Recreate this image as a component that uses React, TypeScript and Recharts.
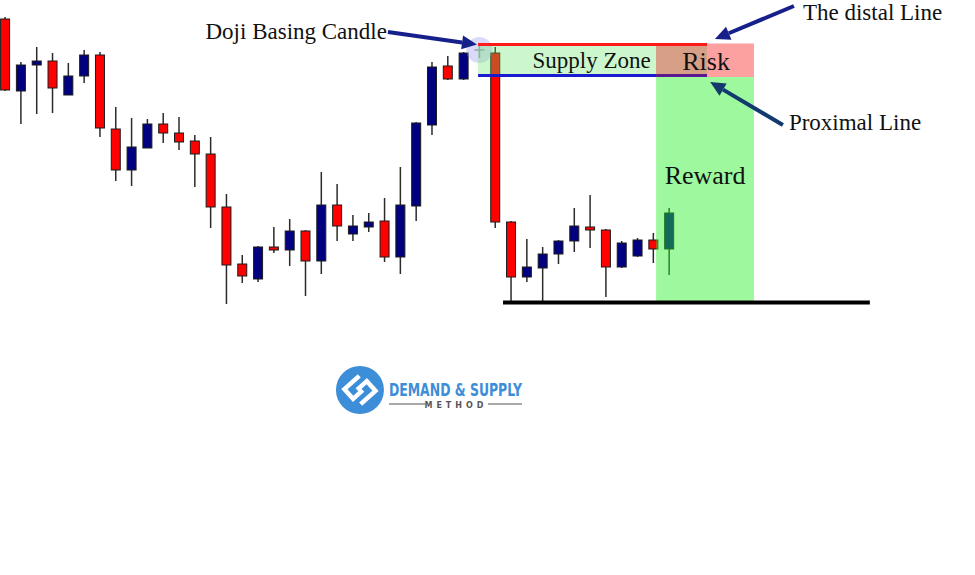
import { ComposedChart, Bar, XAxis, YAxis, ReferenceArea, ReferenceLine, ReferenceDot } from 'recharts'

// OHLC, one entry per candle (index 30 is the doji base)
const opens = [1.2981, 1.2909, 1.2935, 1.2939, 1.2905, 1.2924, 1.2945, 1.2871, 1.2830, 1.2852, 1.2876, 1.2867, 1.2859, 1.2846, 1.2793, 1.2736, 1.2721, 1.2753, 1.2750, 1.2769, 1.2739, 1.2795, 1.2766, 1.2773, 1.2779, 1.2743, 1.2794, 1.2875, 1.2934, 1.2921, 1.2950, 1.2947, 1.2778, 1.2723, 1.2732, 1.2746, 1.2759, 1.2773, 1.2770, 1.2733, 1.2744, 1.2760, 1.2751]
const closes = [1.2910, 1.2935, 1.2939, 1.2912, 1.2924, 1.2945, 1.2872, 1.2830, 1.2853, 1.2876, 1.2867, 1.2858, 1.2846, 1.2793, 1.2735, 1.2724, 1.2753, 1.2750, 1.2769, 1.2739, 1.2795, 1.2774, 1.2774, 1.2778, 1.2743, 1.2795, 1.2877, 1.2933, 1.2921, 1.2947, 1.2950, 1.2778, 1.2723, 1.2733, 1.2746, 1.2759, 1.2774, 1.2770, 1.2733, 1.2757, 1.2760, 1.2751, 1.2787]
const highs = [1.2983, 1.2938, 1.2953, 1.2947, 1.2937, 1.2950, 1.2948, 1.2893, 1.2882, 1.2881, 1.2887, 1.2883, 1.2865, 1.2863, 1.2806, 1.2745, 1.2754, 1.2773, 1.2781, 1.2770, 1.2828, 1.2816, 1.2785, 1.2787, 1.2802, 1.2833, 1.2878, 1.2938, 1.2944, 1.2948, 1.2955, 1.2953, 1.2779, 1.2761, 1.2753, 1.2760, 1.2792, 1.2805, 1.2771, 1.2759, 1.2762, 1.2767, 1.2792]
const lows = [1.2909, 1.2876, 1.2886, 1.2887, 1.2905, 1.2917, 1.2863, 1.2819, 1.2814, 1.2852, 1.2857, 1.2850, 1.2813, 1.2772, 1.2696, 1.2717, 1.2718, 1.2747, 1.2734, 1.2704, 1.2726, 1.2759, 1.2759, 1.2768, 1.2738, 1.2726, 1.2779, 1.2865, 1.2920, 1.2920, 1.2942, 1.2772, 1.2697, 1.2718, 1.2697, 1.2736, 1.2748, 1.2752, 1.2703, 1.2732, 1.2743, 1.2737, 1.2725]

// supply zone and trade levels
const distalLine = 1.29555
const proximalLine = 1.29245
const riskTop = 1.29565
const riskBottom = 1.2923
const targetLevel = 1.26975

// zone spans along the candle index axis
const zoneStart = 29.92
const zoneEnd = 41.18
const linesEnd = 44.4
const riskEnd = 47.37
const targetStart = 31.5
const targetEnd = 54.7

const data = opens.map((open, i) => ({
  i,
  open,
  close: closes[i],
  high: highs[i],
  low: lows[i],
}))

const serif = '"Liberation Serif", "Times New Roman", serif'

const Candle = (props: any) => {
  const { x, y, width, height, payload } = props
  const { open, close, high, low } = payload
  const top = Math.min(y, y + height)
  const h = Math.abs(height)
  const toY = (p: number) => top + ((high - p) / (high - low)) * h
  const cx = x + width / 2
  const doji = open === close
  const bodyTop = toY(Math.max(open, close))
  const bodyBottom = toY(Math.min(open, close))
  const fill = close > open ? '#000080' : '#ff0000'
  return (
    <g>
      <line x1={cx} y1={top} x2={cx} y2={top + h} stroke={doji ? '#a0a0a0' : '#2b2b2b'} strokeWidth={1.5} />
      {doji ? (
        <line x1={x} y1={bodyTop} x2={x + width} y2={bodyTop} stroke="#a0a0a0" strokeWidth={1.5} />
      ) : (
        <rect x={x + 0.5} y={bodyTop} width={width - 1} height={Math.max(bodyBottom - bodyTop, 2)} fill={fill} stroke="#1c1c1c" strokeWidth={1} />
      )}
    </g>
  )
}

const Arrow = (props: any) => {
  const { x1, y1, x2, y2, stroke } = props
  const a = Math.atan2(y2 - y1, x2 - x1)
  const len = 15
  const half = 7
  const bx = x2 - len * Math.cos(a)
  const by = y2 - len * Math.sin(a)
  const pts = [
    `${x2},${y2}`,
    `${bx + half * Math.sin(a)},${by - half * Math.cos(a)}`,
    `${bx - half * Math.sin(a)},${by + half * Math.cos(a)}`,
  ].join(' ')
  return (
    <g>
      <line x1={x1} y1={y1} x2={bx} y2={by} stroke={stroke} strokeWidth={4} />
      <polygon points={pts} fill={stroke} />
    </g>
  )
}

const note = (text: string, dx: number, dy: number, size: number, anchor: 'start' | 'middle' | 'end' = 'start') =>
  (p: any) => (
    <text x={p.cx + dx} y={p.cy + dy} fontFamily={serif} fontSize={size} fill="#111" textAnchor={anchor}>
      {text}
    </text>
  )

const Logo = (p: any) => {
  const { cx, cy } = p
  return (
    <g>
      <circle cx={cx} cy={cy} r={24} fill="#3d8ed8" />
      <g transform={`translate(${cx},${cy}) rotate(-42)`} fill="none" stroke="#fff" strokeWidth={4.5}>
        <path d="M 9 -11 L -11 -11 L -11 2 L 2 2" />
        <path d="M -2 -2 L 11 -2 L 11 11 L -9 11" />
      </g>
      <text x={cx + 29} y={cy + 6} textLength={133} lengthAdjust="spacingAndGlyphs" fontFamily='"DejaVu Sans Condensed", "DejaVu Sans", sans-serif' fontWeight="bold" fontSize={17} fill="#3d8ed8">
        DEMAND &amp; SUPPLY
      </text>
      <line x1={cx + 29} y1={cy + 14} x2={cx + 65} y2={cy + 14} stroke="#a8a8a8" strokeWidth={2} />
      <line x1={cx + 128} y1={cy + 14} x2={cx + 162} y2={cy + 14} stroke="#a8a8a8" strokeWidth={2} />
      <text x={cx + 96} y={cy + 17.5} textAnchor="middle" fontFamily='"DejaVu Sans", sans-serif' fontWeight="bold" fontSize={8} letterSpacing={4} fill="#555">
        METHOD
      </text>
    </g>
  )
}

export default function App() {
  return (
    <div style={{ position: 'absolute', left: 0, top: 0, width: 975, height: 575, background: '#fff' }}>
      <ComposedChart width={975} height={575} data={data} margin={{ top: 0, right: 0, bottom: 0, left: 0 }}>
        <XAxis dataKey="i" type="number" domain={[-0.316, 61.35]} hide allowDataOverflow />
        <YAxis type="number" domain={[1.2425, 1.3]} hide allowDataOverflow />

        {/* faint highlight behind the doji base */}
        <ReferenceDot x={30} y={1.295} r={13} fill="rgba(150,150,235,0.35)" stroke="none" />

        <Bar dataKey={(d: any) => [d.low, d.high]} barSize={10} shape={Candle} isAnimationActive={false} />

        <ReferenceArea x1={zoneStart} x2={zoneEnd} y1={proximalLine} y2={distalLine} fill="rgb(100,230,100)" fillOpacity={0.33} stroke="none" zIndex={900} />
        <ReferenceArea x1={zoneEnd} x2={riskEnd} y1={targetLevel} y2={riskBottom} fill="rgb(40,240,40)" fillOpacity={0.45} stroke="none" zIndex={900} />
        <ReferenceArea x1={zoneEnd} x2={riskEnd} y1={riskBottom} y2={riskTop} fill="#fca0a0" fillOpacity={1} stroke="none" zIndex={900} />
        <ReferenceArea x1={zoneEnd} x2={linesEnd} y1={riskBottom} y2={riskTop} fill="#d79f85" fillOpacity={1} stroke="none" zIndex={900} />

        <ReferenceLine segment={[{ x: zoneStart, y: distalLine }, { x: linesEnd, y: distalLine }]} stroke="#ff1a1a" strokeWidth={3} zIndex={950} />
        <ReferenceLine segment={[{ x: zoneStart, y: proximalLine }, { x: zoneEnd, y: proximalLine }]} stroke="#1a1ad0" strokeWidth={3} zIndex={950} />
        <ReferenceLine segment={[{ x: zoneEnd, y: proximalLine }, { x: linesEnd, y: proximalLine }]} stroke="#5a1890" strokeWidth={3} zIndex={950} />
        <ReferenceLine segment={[{ x: targetStart, y: targetLevel }, { x: targetEnd, y: targetLevel }]} stroke="#000" strokeWidth={4} zIndex={950} />

        <ReferenceLine segment={[{ x: 24.22, y: 1.2968 }, { x: 29.85, y: 1.29555 }]} stroke="#16208a" shape={Arrow} zIndex={960} />
        <ReferenceLine segment={[{ x: 49.9, y: 1.2994 }, { x: 44.9, y: 1.2961 }]} stroke="#16208a" shape={Arrow} zIndex={960} />
        <ReferenceLine segment={[{ x: 49.2, y: 1.2875 }, { x: 44.6, y: 1.2918 }]} stroke="#123a6e" shape={Arrow} zIndex={960} />

        <ReferenceDot x={24.22} y={1.2968} shape={note('Doji Basing Candle', -1, 7, 23, 'end')} zIndex={970} />
        <ReferenceDot x={49.9} y={1.2994} shape={note('The distal Line', 9, 14, 23)} zIndex={970} />
        <ReferenceDot x={49.2} y={1.2875} shape={note('Proximal Line', 6, 5, 23)} zIndex={970} />
        <ReferenceDot x={37.1} y={1.2939} shape={note('Supply Zone', 0, 7, 23, 'middle')} zIndex={970} />
        <ReferenceDot x={44.34} y={1.2939} shape={note('Risk', 0, 9, 26, 'middle')} zIndex={970} />
        <ReferenceDot x={44.28} y={1.2824} shape={note('Reward', 0, 8, 26, 'middle')} zIndex={970} />

        <ReferenceDot x={22.45} y={1.261} shape={Logo} zIndex={970} />
      </ComposedChart>
    </div>
  )
}
